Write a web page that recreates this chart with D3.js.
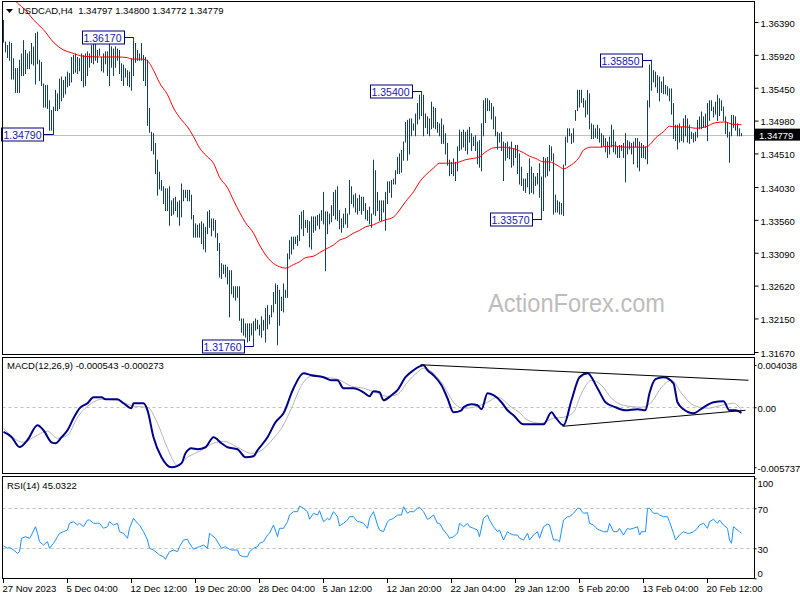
<!DOCTYPE html>
<html><head><meta charset="utf-8">
<script src="https://cdn.jsdelivr.net/npm/d3@7"></script>
<style>body{margin:0;background:#fff}svg text{font-family:"Liberation Sans",Arial,sans-serif}</style>
</head><body><svg id="c" width="800" height="600"></svg>
<script>
// ---------- DATA ----------
const symbolTitle = "USDCAD,H4  1.34797 1.34800 1.34772 1.34779";
const macdTitle = "MACD(12,26,9) -0.000543 -0.000273";
const rsiTitle = "RSI(14) 45.0322";
const lastPrice = 1.34779;
const highs = [
1.3642,1.3611,1.3606,1.3611,1.3609,1.3587,1.3573,1.3573,1.3585,1.3594,
1.3613,1.3599,1.3594,1.3597,1.3609,1.3604,1.3623,1.3625,1.3585,1.3582,
1.3551,1.3549,1.3549,1.3527,1.3513,1.3518,1.3542,1.3537,1.3558,1.3561,
1.3556,1.3561,1.3568,1.3566,1.3589,1.3592,1.3594,1.3589,1.3587,1.3594,
1.3592,1.3594,1.3597,1.3594,1.3606,1.3611,1.3611,1.3599,1.3601,1.3589,
1.3594,1.3597,1.3597,1.3612,1.3604,1.3601,1.3604,1.3601,1.3599,1.3580,
1.3578,1.3573,1.3570,1.3568,1.3587,1.3617,1.3609,1.3599,1.3594,1.3609,
1.3592,1.3589,1.3585,1.3516,1.3482,1.3480,1.3466,1.3442,1.3425,1.3413,
1.3404,1.3401,1.3401,1.3404,1.3384,1.3387,1.3389,1.3382,1.3384,1.3408,
1.3399,1.3399,1.3399,1.3399,1.3392,1.3363,1.3351,1.3349,1.3351,1.3354,
1.3351,1.3346,1.3368,1.3370,1.3358,1.3358,1.3356,1.3337,1.3323,1.3294,
1.3292,1.3292,1.3289,1.3284,1.3284,1.3261,1.3261,1.3261,1.3261,1.3215,
1.3215,1.3208,1.3208,1.3208,1.3208,1.3211,1.3215,1.3213,1.3206,1.3218,
1.3213,1.3230,1.3234,1.3220,1.3234,1.3253,1.3265,1.3263,1.3256,1.3246,
1.3265,1.3256,1.3308,1.3327,1.3332,1.3332,1.3332,1.3334,1.3363,1.3368,
1.3370,1.3356,1.3356,1.3354,1.3361,1.3361,1.3361,1.3363,1.3365,1.3370,
1.3396,1.3368,1.3368,1.3365,1.3377,1.3396,1.3399,1.3404,1.3370,1.3358,
1.3365,1.3373,1.3365,1.3413,1.3404,1.3392,1.3394,1.3387,1.3392,1.3389,
1.3389,1.3380,1.3370,1.3375,1.3365,1.3442,1.3427,1.3396,1.3384,1.3384,
1.3384,1.3396,1.3411,1.3411,1.3413,1.3415,1.3427,1.3446,1.3451,1.3456,
1.3468,1.3496,1.3499,1.3501,1.3501,1.3494,1.3508,1.3523,1.3535,1.3540,
1.3535,1.3508,1.3504,1.3501,1.3525,1.3518,1.3516,1.3496,1.3494,1.3501,
1.3492,1.3480,1.3466,1.3442,1.3439,1.3444,1.3439,1.3461,1.3485,1.3482,
1.3485,1.3482,1.3485,1.3489,1.3480,1.3475,1.3477,1.3468,1.3470,1.3494,
1.3527,1.3530,1.3530,1.3527,1.3523,1.3518,1.3504,1.3482,1.3480,1.3482,
1.3468,1.3466,1.3468,1.3461,1.3468,1.3458,1.3463,1.3463,1.3451,1.3432,
1.3415,1.3415,1.3423,1.3444,1.3432,1.3423,1.3418,1.3423,1.3437,1.3418,
1.3446,1.3444,1.3446,1.3463,1.3461,1.3451,1.3392,1.3384,1.3382,1.3380,
1.3435,1.3475,1.3487,1.3487,1.3480,1.3487,1.3513,1.3542,1.3542,1.3542,
1.3530,1.3527,1.3542,1.3537,1.3494,1.3492,1.3487,1.3492,1.3487,1.3480,
1.3477,1.3473,1.3468,1.3475,1.3492,1.3485,1.3468,1.3461,1.3463,1.3463,
1.3466,1.3480,1.3470,1.3468,1.3466,1.3468,1.3473,1.3473,1.3468,1.3466,
1.3463,1.3461,1.3527,1.3578,1.3585,1.3570,1.3568,1.3563,1.3561,1.3554,
1.3561,1.3549,1.3547,1.3544,1.3544,1.3523,1.3492,1.3492,1.3494,1.3489,
1.3501,1.3506,1.3501,1.3492,1.3482,1.3480,1.3482,1.3499,1.3504,1.3511,
1.3504,1.3508,1.3523,1.3527,1.3527,1.3518,1.3525,1.3535,1.3530,1.3527,
1.3518,1.3504,1.3496,1.3482,1.3506,1.3506,1.3504,1.3494,1.3487,1.3480];
const lows = [
1.3611,1.3597,1.3589,1.3585,1.3558,1.3558,1.3539,1.3539,1.3539,1.3563,
1.3563,1.3566,1.3573,1.3573,1.3580,1.3578,1.3551,1.3580,1.3556,1.3549,
1.3518,1.3518,1.3516,1.3485,1.3485,1.3479,1.3513,1.3513,1.3516,1.3527,
1.3532,1.3537,1.3547,1.3549,1.3554,1.3566,1.3568,1.3566,1.3570,1.3556,
1.3547,1.3549,1.3563,1.3575,1.3582,1.3580,1.3585,1.3582,1.3592,1.3570,
1.3568,1.3580,1.3563,1.3549,1.3575,1.3563,1.3575,1.3585,1.3566,1.3556,
1.3549,1.3561,1.3549,1.3547,1.3542,1.3563,1.3582,1.3585,1.3585,1.3585,
1.3556,1.3549,1.3492,1.3482,1.3456,1.3451,1.3423,1.3392,1.3401,1.3399,
1.3380,1.3370,1.3370,1.3349,1.3363,1.3365,1.3370,1.3361,1.3349,1.3361,
1.3384,1.3389,1.3384,1.3384,1.3358,1.3332,1.3332,1.3332,1.3332,1.3323,
1.3315,1.3311,1.3337,1.3346,1.3334,1.3342,1.3332,1.3313,1.3275,1.3273,
1.3280,1.3275,1.3265,1.3218,1.3251,1.3246,1.3242,1.3246,1.3213,1.3196,
1.3192,1.3189,1.3182,1.3184,1.3192,1.3176,1.3199,1.3201,1.3192,1.3189,
1.3199,1.3182,1.3201,1.3208,1.3218,1.3225,1.3237,1.3178,1.3206,1.3227,
1.3225,1.3246,1.3246,1.3301,1.3308,1.3315,1.3323,1.3320,1.3327,1.3344,
1.3334,1.3346,1.3339,1.3318,1.3315,1.3339,1.3342,1.3349,1.3344,1.3356,
1.3351,1.3284,1.3337,1.3351,1.3354,1.3363,1.3358,1.3356,1.3344,1.3339,
1.3346,1.3351,1.3346,1.3365,1.3380,1.3375,1.3368,1.3365,1.3370,1.3365,
1.3370,1.3358,1.3356,1.3351,1.3346,1.3365,1.3363,1.3370,1.3356,1.3356,
1.3368,1.3342,1.3380,1.3396,1.3389,1.3408,1.3408,1.3423,1.3423,1.3425,
1.3442,1.3468,1.3442,1.3451,1.3477,1.3485,1.3477,1.3494,1.3501,1.3506,
1.3477,1.3489,1.3480,1.3477,1.3487,1.3489,1.3487,1.3482,1.3477,1.3466,
1.3466,1.3451,1.3435,1.3420,1.3423,1.3420,1.3413,1.3427,1.3456,1.3458,
1.3461,1.3456,1.3451,1.3468,1.3456,1.3463,1.3456,1.3437,1.3432,1.3427,
1.3477,1.3496,1.3513,1.3513,1.3501,1.3487,1.3477,1.3458,1.3468,1.3456,
1.3413,1.3442,1.3446,1.3444,1.3432,1.3435,1.3446,1.3423,1.3408,1.3406,
1.3399,1.3396,1.3404,1.3394,1.3396,1.3394,1.3406,1.3408,1.3389,1.3357,
1.3370,1.3418,1.3420,1.3427,1.3442,1.3365,1.3368,1.3368,1.3365,1.3365,
1.3363,1.3435,1.3468,1.3477,1.3466,1.3468,1.3499,1.3513,1.3518,1.3525,
1.3518,1.3504,1.3508,1.3487,1.3473,1.3473,1.3475,1.3473,1.3468,1.3461,
1.3463,1.3454,1.3446,1.3451,1.3461,1.3454,1.3451,1.3446,1.3446,1.3456,
1.3446,1.3411,1.3451,1.3458,1.3451,1.3437,1.3461,1.3432,1.3427,1.3446,
1.3446,1.3444,1.3437,1.3518,1.3542,1.3554,1.3547,1.3539,1.3527,1.3539,
1.3537,1.3537,1.3535,1.3527,1.3508,1.3473,1.3470,1.3458,1.3468,1.3470,
1.3468,1.3477,1.3468,1.3466,1.3473,1.3468,1.3470,1.3475,1.3487,1.3487,
1.3489,1.3489,1.3470,1.3499,1.3513,1.3504,1.3508,1.3499,1.3506,1.3513,
1.3499,1.3480,1.3475,1.3439,1.3477,1.3489,1.3485,1.3477,1.3477,1.3477];
// moving average [bar index, price]
const maPoints = [[5,1.3672],[7,1.3666],[11,1.3656],[15,1.3642],[20,1.3628],[25,1.3610],[30,1.3599],[34,1.3595],[40,1.3590],[48,1.3589],[57,1.3589],[62,1.3588],[64,1.3586],[68,1.3586],[71,1.3585],[73,1.3580],[75,1.3570],[78,1.3552],[82,1.3535],[85,1.3516],[89,1.3499],[92,1.3489],[95,1.3475],[98,1.3459],[102,1.3446],[105,1.3437],[108,1.3417],[112,1.3402],[115,1.3384],[118,1.3367],[121,1.3352],[125,1.3337],[128,1.3320],[131,1.3306],[134,1.3296],[138,1.3289],[141,1.3287],[145,1.3292],[148,1.3296],[151,1.3302],[155,1.3304],[158,1.3309],[161,1.3314],[165,1.3320],[168,1.3327],[171,1.3330],[175,1.3337],[178,1.3341],[181,1.3346],[185,1.3349],[188,1.3353],[191,1.3356],[195,1.3360],[198,1.3370],[201,1.3382],[205,1.3396],[208,1.3410],[211,1.3420],[215,1.3430],[218,1.3437],[221,1.3437],[225,1.3437],[228,1.3439],[231,1.3442],[235,1.3444],[238,1.3446],[241,1.3453],[245,1.3459],[250,1.3460],[253,1.3459],[256,1.3457],[260,1.3452],[263,1.3447],[266,1.3444],[270,1.3439],[273,1.3439],[275,1.3437],[278,1.3432],[280,1.3429],[283,1.3433],[285,1.3437],[288,1.3446],[290,1.3456],[294,1.3460],[298,1.3460],[305,1.3462],[310,1.3460],[316,1.3460],[321,1.3460],[324,1.3466],[326,1.3473],[330,1.3482],[333,1.3490],[336,1.3489],[341,1.3489],[346,1.3487],[351,1.3489],[356,1.3495],[361,1.3496],[364,1.3493],[369,1.3492]];
const macdMain = [[0,-0.00236],[4,-0.00284],[8,-0.00380],[12,-0.00313],[17,-0.00172],[20,-0.00220],[24,-0.00335],[26,-0.00344],[29,-0.00287],[32,-0.00220],[35,-0.00105],[38,-0.00010],[42,0.00038],[45,0.00096],[49,0.00096],[51,0.00076],[57,0.00076],[60,0.00038],[64,-0.00010],[65,0.00038],[70,0.00038],[72,-0.00029],[75,-0.00287],[79,-0.00478],[84,-0.00574],[89,-0.00535],[91,-0.00440],[94,-0.00392],[97,-0.00401],[101,-0.00382],[105,-0.00287],[109,-0.00344],[112,-0.00382],[117,-0.00401],[121,-0.00478],[125,-0.00468],[127,-0.00411],[132,-0.00287],[136,-0.00143],[140,-0.00057],[145,0.00182],[150,0.00325],[154,0.00306],[160,0.00287],[164,0.00258],[167,0.00258],[170,0.00182],[175,0.00182],[180,0.00143],[183,0.00105],[185,0.00153],[188,0.00143],[190,0.00067],[194,0.00115],[197,0.00163],[201,0.00287],[205,0.00354],[210,0.00402],[212,0.00354],[215,0.00306],[219,0.00210],[222,0.00086],[225,-0.00048],[229,-0.00029],[230,0],[234,0.00029],[237,0.00019],[239,-0.00019],[242,0.00134],[245,0.00115],[249,0.00048],[252,-0.00029],[255,-0.00076],[260,-0.00163],[265,-0.00163],[270,-0.00163],[274,-0.00048],[276,-0.00096],[280,-0.00172],[284,0.00067],[288,0.00287],[292,0.00325],[297,0.00182],[301,0.00048],[306,0],[311,-0.00029],[317,-0.00019],[321,-0.00029],[323,0.00134],[326,0.00268],[330,0.00287],[335,0.00229],[337,0.00048],[340,-0.00019],[345,-0.00057],[350,0],[355,0.00048],[360,0.00057],[363,-0.00029],[366,-0.00029],[369,-0.00054]];
const macdSignal = [[0,-0.00201],[10,-0.00335],[15,-0.00287],[22,-0.00229],[27,-0.00296],[32,-0.00268],[37,-0.00096],[44,0.00038],[49,0.00076],[57,0.00067],[65,0.00010],[72,0],[77,-0.00153],[82,-0.00392],[87,-0.00555],[92,-0.00478],[99,-0.00411],[105,-0.00344],[110,-0.00325],[117,-0.00382],[124,-0.00440],[129,-0.00411],[135,-0.00296],[139,-0.00201],[144,-0.00010],[149,0.00210],[154,0.00296],[160,0.00287],[167,0.00268],[174,0.00201],[180,0.00182],[187,0.00134],[192,0.00105],[197,0.00124],[202,0.00239],[207,0.00335],[210,0.00373],[215,0.00325],[220,0.00210],[225,0.00048],[230,-0.00010],[235,0],[242,0.00048],[247,0.00096],[254,0],[258,-0.00050],[262,-0.00124],[269,-0.00153],[275,-0.00105],[280,-0.00096],[285,-0.00048],[289,0.00134],[294,0.00258],[299,0.00210],[304,0.00086],[310,0.00019],[319,0],[324,0.00048],[329,0.00191],[334,0.00258],[339,0.00134],[345,0.00019],[352,-0.00010],[359,0.00019],[365,0.00038],[369,-0.00027]];
const macdTrendlines = [[[208.5,0.00406],[372.5,0.00258]],[[279.5,-0.00182],[371,-0.00029]]];
const rsiPoints = [[0,32.3],[2,30],[3,31],[5,28.3],[7,25],[8,26.6],[9,40],[11,41.6],[13,40],[14,43.3],[16,51.6],[17,45],[18,36.6],[20,33.3],[22,36.6],[23,30],[25,35],[27,41.6],[28,45],[30,46.6],[32,48.3],[33,55],[35,56.6],[37,53.3],[38,55],[40,51.6],[42,58.3],[43,58.3],[45,55],[47,55],[48,55],[50,50],[52,51.6],[53,56.6],[55,53.3],[57,55],[58,46.6],[60,45],[62,40],[63,50],[65,60],[67,55],[68,53.3],[70,46.6],[72,38.3],[73,30],[75,28.3],[77,25],[78,23.3],[80,21.6],[81,19],[82,23.3],[83,26.6],[85,28.3],[87,26.6],[88,31.6],[90,38.3],[92,39],[93,35],[95,29],[97,31],[98,31.6],[100,33.3],[102,30],[103,45],[104,43.3],[106,40],[108,33.3],[109,30],[111,31.6],[113,29],[114,28.3],[117,28.3],[118,23.3],[120,21.6],[122,21.6],[123,26.6],[125,30],[127,31.6],[128,35],[130,36.6],[132,43.3],[133,45],[135,53.3],[137,41.6],[138,50],[140,50],[142,56.6],[143,63.3],[145,66.6],[147,66.6],[148,72.3],[150,70],[152,66.6],[153,59],[155,65],[157,63.3],[158,67.6],[160,56.6],[162,60],[163,58.3],[165,66.6],[167,61.6],[168,52.3],[170,55],[172,58.3],[173,61.6],[175,61.6],[177,56.6],[178,56.6],[180,55],[182,50],[183,60],[185,66.6],[187,53.3],[188,48.3],[190,46.6],[192,56.6],[193,58.3],[195,60],[197,63.3],[199,63.3],[200,71.6],[202,65],[203,66.6],[205,66.6],[207,70],[208,71],[210,66.6],[212,59],[213,60],[215,63.3],[217,55],[218,55],[220,48.3],[222,43.3],[223,40],[225,41.6],[227,45],[228,55],[230,51.6],[232,55],[233,51.6],[235,50],[237,48.3],[238,41.6],[240,60],[242,63.3],[243,58.3],[245,51.6],[247,46.6],[248,48.3],[250,38.3],[252,46.6],[253,45],[255,43.3],[257,43.3],[258,40],[260,38.3],[262,45],[263,38.3],[265,43.3],[267,46.6],[268,40],[270,51.6],[272,54.3],[273,53.3],[275,38.3],[277,38.3],[278,36.6],[280,58.3],[282,61.6],[283,61.6],[285,65],[287,70],[288,70],[290,65],[292,65.6],[293,55],[295,53.3],[297,49],[298,48.3],[300,46.6],[302,46.6],[303,55],[305,46.6],[307,46.6],[308,50],[310,43.3],[312,50],[313,49],[315,50],[317,51.6],[318,43.3],[319,46.6],[321,46.6],[322,70],[323,70],[325,65],[327,65],[328,63.3],[330,61.6],[332,61.6],[333,56.6],[335,45],[336,38.3],[338,43.3],[339,45],[340,46.6],[342,45],[343,45],[345,46.6],[347,50],[348,53.3],[350,55],[352,50],[353,56.6],[355,59],[357,55],[358,58.3],[360,53.3],[362,50],[363,38.3],[364,35],[365,51.6],[367,48.3],[368,46.6],[369,45.0]];
const priceTicks = [1.36390,1.35920,1.35450,1.34980,1.34510,1.34030,1.33560,1.33090,1.32620,1.32150,1.31670];
const macdTicks = [0.004038,0,-0.005737];
const macdTickLabels = ["0.004038","0.00","-0.005737"];
const rsiTicks = [100,70,30,0];
const rsiLevels = [70,30];
const timeLabelIndex = [0,32,64,96,128,160,192,224,256,288,320,352];
const timeLabels = ["27 Nov 2023","5 Dec 04:00","12 Dec 12:00","19 Dec 20:00","28 Dec 04:00","5 Jan 12:00","12 Jan 20:00","22 Jan 04:00","29 Jan 12:00","5 Feb 20:00","13 Feb 04:00","20 Feb 12:00"];
const swingIndex = [25,65,125,209,269,324];
const swingPrice = [1.3479,1.3617,1.3176,1.3540,1.3357,1.3585];

// ---------- DRAW ----------
const svg = d3.select("#c");
const FONT = '"Liberation Sans",Arial,sans-serif';
const PL = 2.5, PR = 754.5;
const panels = {main:[1.5,354.5], macd:[357.5,473.5], rsi:[476.5,578.5]};
const x = d3.scaleLinear().domain([0,369]).range([3.5,741.5]);
const yP = d3.scaleLinear().domain([1.3167,1.3639]).range([352,22]);
const yM = d3.scaleLinear().domain([-0.005737,0.004038]).range([467.3,365]);
const yR = d3.scaleLinear().domain([0,100]).range([578.3,478.3]);

svg.append("rect").attr("width",800).attr("height",600).attr("fill","#fff");
const defs = svg.append("defs");
Object.entries(panels).forEach(([k,[t,b]])=>{
  defs.append("clipPath").attr("id","clip-"+k).append("rect")
    .attr("x",PL).attr("y",t).attr("width",PR-PL).attr("height",b-t);
});

// watermark
svg.append("text").attr("x",488).attr("y",312).attr("font-size",26)
  .attr("fill","#bdbdbd").attr("textLength",177).attr("lengthAdjust","spacingAndGlyphs")
  .text("ActionForex.com");

// main panel
const gMain = svg.append("g").attr("clip-path","url(#clip-main)");
gMain.append("line").attr("x1",PL).attr("x2",PR)
  .attr("y1",Math.round(yP(lastPrice))+0.5).attr("y2",Math.round(yP(lastPrice))+0.5)
  .attr("stroke","#c0c0c0");
gMain.selectAll("line.bar").data(highs.map((h,i)=>({i,h,l:lows[i]}))).join("line")
  .attr("class","bar").attr("x1",d=>x(d.i)).attr("x2",d=>x(d.i))
  .attr("y1",d=>yP(d.h)).attr("y2",d=>yP(d.l)+1)
  .attr("stroke","#163f5e").attr("stroke-width",1);
gMain.append("path").datum(maPoints)
  .attr("d",d3.line().x(d=>x(d[0])).y(d=>yP(d[1])).curve(d3.curveMonotoneX))
  .attr("fill","none").attr("stroke","#ff0000").attr("stroke-width",1);

// swing labels
swingIndex.forEach((si,k)=>{
  const bx = x(si), by = Math.round(yP(swingPrice[k]))+0.5;
  const g = svg.append("g");
  g.append("line").attr("x1",bx-10).attr("x2",bx).attr("y1",by).attr("y2",by).attr("stroke","#000080");
  g.append("rect").attr("x",Math.round(bx-52)+0.5).attr("y",by-6.5).attr("width",42).attr("height",13)
    .attr("fill","#fff").attr("stroke","#000080");
  g.append("text").attr("x",bx-31).attr("y",by+4).attr("text-anchor","middle")
    .attr("font-size",10.5).attr("fill","#1818b0").text(swingPrice[k].toFixed(5));
});

// MACD panel
const gM = svg.append("g").attr("clip-path","url(#clip-macd)");
gM.append("line").attr("x1",PL).attr("x2",PR).attr("y1",Math.round(yM(0))+0.5).attr("y2",Math.round(yM(0))+0.5)
  .attr("stroke","#c0c0c0").attr("stroke-dasharray","3,3");
gM.append("path").datum(macdSignal)
  .attr("d",d3.line().x(d=>x(d[0])).y(d=>yM(d[1])).curve(d3.curveMonotoneX))
  .attr("fill","none").attr("stroke","#b4b4b4").attr("stroke-width",1);
gM.append("path").datum(macdMain)
  .attr("d",d3.line().x(d=>x(d[0])).y(d=>yM(d[1])).curve(d3.curveMonotoneX))
  .attr("fill","none").attr("stroke","#000088").attr("stroke-width",2);
macdTrendlines.forEach(tl=>{
  gM.append("line").attr("x1",x(tl[0][0])).attr("y1",yM(tl[0][1])).attr("x2",x(tl[1][0])).attr("y2",yM(tl[1][1]))
    .attr("stroke","#000").attr("stroke-width",1);
});

// RSI panel
const gR = svg.append("g").attr("clip-path","url(#clip-rsi)");
rsiLevels.forEach(v=>{
  gR.append("line").attr("x1",PL).attr("x2",PR).attr("y1",Math.round(yR(v))+0.5).attr("y2",Math.round(yR(v))+0.5)
    .attr("stroke","#c0c0c0").attr("stroke-dasharray","3,3");
});
gR.append("path").datum(rsiPoints)
  .attr("d",d3.line().x(d=>x(d[0])).y(d=>yR(d[1])))
  .attr("fill","none").attr("stroke","#1e90ff").attr("stroke-width",1);

// frames
Object.values(panels).forEach(([t,b])=>{
  svg.append("rect").attr("x",PL).attr("y",t).attr("width",PR-PL).attr("height",b-t)
    .attr("fill","none").attr("stroke","#000");
});

// right axes
function styleAxis(g){
  g.select(".domain").remove();
  g.attr("font-family",FONT).attr("font-size",9.5);
  g.selectAll("text").attr("fill","#000");
  g.selectAll("line").attr("stroke","#000");
}
svg.append("g").attr("transform",`translate(${PR},0)`)
  .call(d3.axisRight(yP).tickValues(priceTicks).tickFormat(d3.format(".5f")).tickSize(4).tickPadding(2))
  .call(styleAxis).selectAll("text").attr("dy","0.45em");
svg.append("g").attr("transform",`translate(${PR},0)`)
  .call(d3.axisRight(yM).tickValues(macdTicks).tickFormat((d,i)=>macdTickLabels[i]).tickSize(2).tickPadding(1))
  .call(styleAxis).selectAll("text").attr("dy","0.4em");
svg.append("g").attr("transform",`translate(${PR},0)`)
  .call(d3.axisRight(yR).tickValues(rsiTicks).tickSize(2).tickPadding(1))
  .call(styleAxis).selectAll("text")
  .attr("y",d=>Math.min(Math.max(yR(d),483),573)-yR(d)).attr("dy","0.4em");

// current price tag
const cy = yP(lastPrice);
svg.append("rect").attr("x",PR+0.5).attr("y",cy-6).attr("width",46).attr("height",12).attr("fill","#000");
svg.append("text").attr("x",759).attr("y",cy+4).attr("font-size",9.5).attr("fill","#fff").text(lastPrice.toFixed(5));

// time axis
const gT = svg.append("g").attr("font-family",FONT).attr("font-size",9.5);
timeLabelIndex.forEach((ti,k)=>{
  gT.append("line").attr("x1",x(ti)).attr("x2",x(ti)).attr("y1",579).attr("y2",583).attr("stroke","#000");
  gT.append("text").attr("x",x(ti)-1).attr("y",592).attr("fill","#000").text(timeLabels[k]);
});

// titles
svg.append("path").attr("d","M6,9L13,9L9.5,13Z").attr("fill","#000");
svg.append("text").attr("x",18).attr("y",14).attr("font-size",9.5).attr("fill","#000").attr("xml:space","preserve").style("white-space","pre").text(symbolTitle);
svg.append("text").attr("x",7).attr("y",369).attr("font-size",9.5).attr("fill","#000").text(macdTitle);
svg.append("text").attr("x",7).attr("y",489).attr("font-size",9.5).attr("fill","#000").text(rsiTitle);
</script></body></html>
